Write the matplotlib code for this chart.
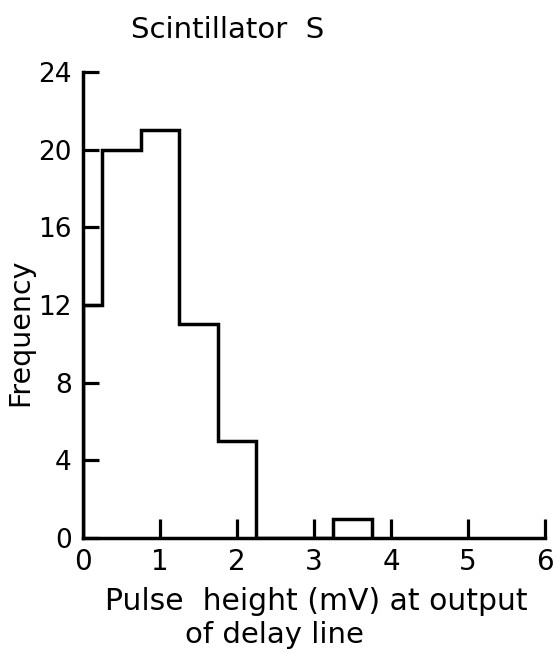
import matplotlib
matplotlib.use("Agg")
import matplotlib.pyplot as plt

bin_edges = [0, 0.25, 0.75, 1.25, 1.75, 2.25, 3.25, 3.75]
frequency = [12, 20, 21, 11, 5, 0, 1]
x_ticks = [0, 1, 2, 3, 4, 5, 6]
y_ticks = [0, 4, 8, 12, 16, 20, 24]
title = "Scintillator  S"
ylabel = "Frequency"
xlabel_1 = "Pulse  height (mV) at output"
xlabel_2 = "of delay line"

plt.rcParams['font.family'] = ['DejaVu Sans']
W, H = 554, 653
fig = plt.figure(figsize=(W / 100, H / 100), dpi=100)
ax = fig.add_axes([83 / W, 1 - 538 / H, (545 - 83) / W, (538 - 72) / H])

ax.stairs(frequency, bin_edges, color='black', linewidth=2.5, baseline=0)
ax.set_xlim(0, 6)
ax.set_ylim(0, 24)
for s in ['top', 'right']:
    ax.spines[s].set_visible(False)
for s in ['left', 'bottom']:
    ax.spines[s].set_linewidth(2.5)

ax.set_xticks(x_ticks)
ax.set_yticks(y_ticks)
ax.tick_params(axis='x', direction='in', length=14, width=2.3, labelsize=20, pad=7)
ax.tick_params(axis='y', direction='in', length=11.5, width=2.3, labelsize=19, pad=8)
ax.xaxis.get_major_ticks()[0].tick1line.set_visible(False)

fig.text(20 / W, 1 - 332 / H, ylabel, fontsize=20.5, rotation=90, ha='center', va='center')
fig.text(228 / W, 1 - 38 / H, title, fontsize=21, ha='center', va='baseline')
fig.text(316 / W, 1 - 610 / H, xlabel_1, fontsize=21.5, ha='center', va='baseline')
fig.text(274 / W, 1 - 643 / H, xlabel_2, fontsize=21, ha='center', va='baseline')

fig.savefig("out.png", dpi=100)
